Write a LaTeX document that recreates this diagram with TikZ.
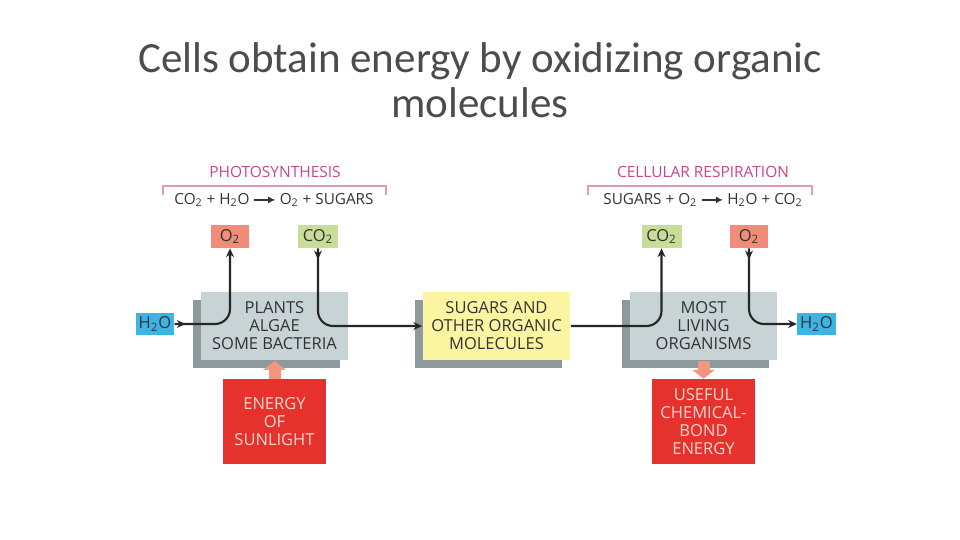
\documentclass[tikz,border=0pt]{standalone}
\usepackage{fontspec}
\setmainfont{Carlito}
\newfontfamily\labelfont{Open Sans}
\usetikzlibrary{positioning,arrows.meta,shadows,decorations.markings}
\definecolor{cellgray}{RGB}{199,211,213}
\definecolor{shadowgray}{RGB}{142,153,157}
\definecolor{sugaryellow}{RGB}{251,244,160}
\definecolor{waterblue}{RGB}{62,180,229}
\definecolor{oxysalmon}{RGB}{240,140,120}
\definecolor{carbongreen}{RGB}{202,221,152}
\definecolor{energyred}{RGB}{230,50,45}
\definecolor{flowsalmon}{RGB}{244,150,125}
\definecolor{headmagenta}{RGB}{200,70,140}
\definecolor{redtext}{RGB}{250,215,205}
\newcommand{\yields}{\tikz[baseline=-0.55ex]\draw[line width=0.7pt,-{Latex[length=4pt,width=4pt]}] (0pt,0pt) -- (12pt,0pt);}
\newcommand{\two}{\textsubscript{2}}

\begin{document}
\begin{tikzpicture}[
        x=0.02cm, y=-0.02cm,
        labeltext/.style={font=\labelfont\fontsize{9.4}{10.2}\selectfont, text=black!80},
        organism/.style={labeltext, fill=cellgray, minimum width=2.96cm, minimum height=1.38cm, align=center,
            general shadow={fill=shadowgray, shadow xshift=-0.16cm, shadow yshift=-0.16cm}},
        gas/.style={labeltext, minimum width=0.77cm, minimum height=0.46cm, inner sep=0pt},
        energybox/.style={labeltext, fill=energyred, text=redtext, minimum width=2.08cm, minimum height=1.7cm, align=center},
        process/.style={font=\labelfont\fontsize{8.8}{10}\selectfont, text=headmagenta},
        equation/.style={font=\labelfont\fontsize{8.7}{10}\selectfont, text=black!80},
        flow/.style={draw=black!85, line width=1.2pt, rounded corners=0.3cm, -{Stealth[length=5pt,width=4.5pt]}},
        startarrow/.style={postaction={decorate}, decoration={markings,
            mark=at position 0.22cm with {\arrow{Stealth[length=5pt,width=4.5pt]}}}},
        bigflow/.style={draw=flowsalmon, line width=0.24cm, -{Triangle[width=0.44cm,length=0.18cm]}}
    ]
    \useasboundingbox (0,0) rectangle (960,540);

    \node[align=center, text=black!70, font=\fontsize{24.5}{25.6}\selectfont] (title) at (480,80)
        {Cells obtain energy by oxidizing organic\\molecules};

    % photosynthesis side
    \node[process] (photo) at (275,172) {PHOTOSYNTHESIS};
    \node[equation] (photoeq) at (274,200) {CO\two{} + H\two O \yields{} O\two{} + SUGARS};
    \draw[headmagenta!55, line width=0.6pt] (163,195) -- (163,186) -- (386,186) -- (386,195);

    % respiration side
    \node[process] (resp) at (703,172) {CELLULAR RESPIRATION};
    \node[equation] (respeq) at (703,200) {SUGARS + O\two{} \yields{} H\two O + CO\two};
    \draw[headmagenta!55, line width=0.6pt] (588,195) -- (588,186) -- (812,186) -- (812,195);

    % main boxes
    \node[organism] (plants) at (274.5,326) {PLANTS\\ALGAE\\SOME BACTERIA};
    \node[organism, fill=sugaryellow] (sugars) at (496.5,326) {SUGARS AND\\OTHER ORGANIC\\MOLECULES};
    \node[organism] (organisms) at (703.5,326) {MOST\\LIVING\\ORGANISMS};

    \node[energybox, below=0.36cm of plants] (sunlight) {ENERGY\\OF\\SUNLIGHT};
    \node[energybox, below=0.36cm of organisms] (bond) {USEFUL\\CHEMICAL-\\BOND\\ENERGY};

    % gases
    \node[gas, fill=waterblue] (h2oL) at (155,324) {H\two O};
    \node[gas, fill=oxysalmon] (o2L) at (230,236.5) {O\two};
    \node[gas, fill=carbongreen, minimum width=0.8cm] (co2L) at (318,236.5) {CO\two};
    \node[gas, fill=carbongreen, minimum width=0.8cm] (co2R) at (661.5,236.5) {CO\two};
    \node[gas, fill=oxysalmon] (o2R) at (749,236.5) {O\two};
    \node[gas, fill=waterblue] (h2oR) at (816.5,324) {H\two O};

    % connectors
    \draw[flow, startarrow] (h2oL.east) -| (o2L.south);
    \draw[flow, startarrow] (co2L.south) |- (sugars.west);
    \draw[flow] (sugars.east) -| (co2R.south);
    \draw[flow, startarrow] (o2R.south) |- (h2oR.west);

    \draw[bigflow] (sunlight.north) -- (plants.south);
    \draw[bigflow] (organisms.south) -- (bond.north);
\end{tikzpicture}
\end{document}
